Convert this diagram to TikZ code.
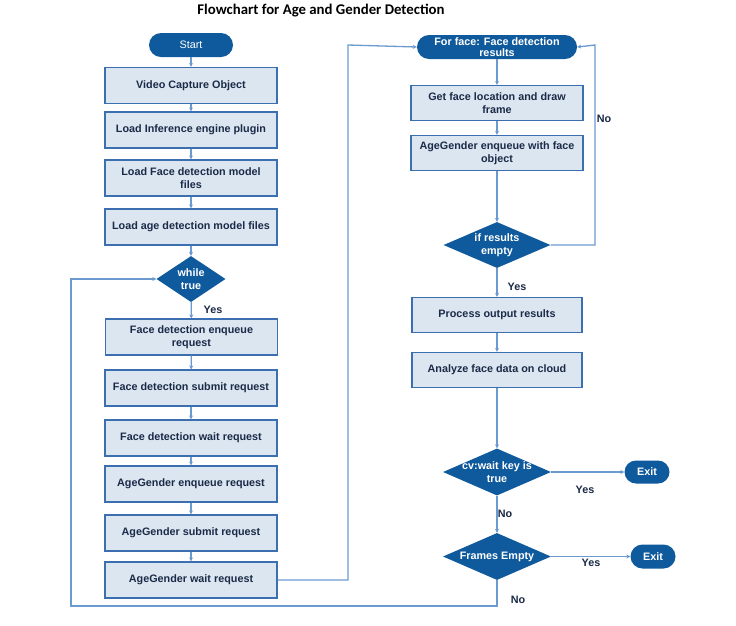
\documentclass[tikz,border=0pt]{standalone}
\usepackage{fontspec}
\setmainfont{Liberation Sans}
\newfontfamily\titlefont{Carlito}
\usetikzlibrary{shapes.geometric,arrows.meta}
\definecolor{dblue}{HTML}{0F5A9C}
\definecolor{boxfill}{HTML}{DCE6F1}
\definecolor{boxdraw}{HTML}{3B6FB0}
\definecolor{linec}{HTML}{6B9AD0}
\definecolor{txt}{HTML}{1B2A47}
\tikzset{
  every node/.style={inner sep=0pt},
  procbox/.style={rectangle, draw=boxdraw, fill=boxfill, line width=1.1pt, minimum width=172pt, minimum height=36pt, align=center, text=txt, font=\fontsize{10.8}{12.5}\selectfont\bfseries},
  pill/.style={rectangle, rounded corners=12pt, fill=dblue, minimum height=24pt, align=center, text=white, font=\fontsize{10.8}{12}\selectfont},
  dia/.style={diamond, fill=dblue, inner sep=0pt},
  dtext/.style={align=center, text=white, font=\fontsize{10.8}{12.5}\selectfont\bfseries},
  lbl/.style={text=txt, font=\fontsize{10.8}{12}\selectfont\bfseries},
  conn/.style={draw=linec, line width=1.3pt, -{Stealth[length=4pt,width=4pt]}}
}
\begin{document}
\begin{tikzpicture}[x=1pt,y=-1pt]
\useasboundingbox[fill=white] (0,0) rectangle (736,625);
\node[font=\titlefont\fontsize{14.8}{16}\selectfont\bfseries] (title) at (321,11) {Flowchart for Age and Gender Detection};
% left column
\node[pill, minimum width=84pt] (start) at (191,45) {Start};
\node[procbox] (vco) at (191,85.5) {Video Capture Object};
\node[procbox] (lip) at (191,130) {Load Inference engine plugin};
\node[procbox] (lfd) at (191,178) {Load Face detection model\\files};
\node[procbox] (lad) at (191,227) {Load age detection model files};
\node[dia, minimum width=69pt, minimum height=46pt, label={[dtext]center:{while\\true}}] (wt) at (191,279) {};
\node[procbox] (fde) at (191.5,337) {Face detection enqueue\\request};
\node[procbox] (fds) at (191,388) {Face detection submit request};
\node[procbox] (fdw) at (191,438) {Face detection wait request};
\node[procbox] (age) at (191,484) {AgeGender enqueue request};
\node[procbox] (ags) at (191,533) {AgeGender submit request};
\node[procbox] (agw) at (191,580) {AgeGender wait request};
% right column
\node[pill, minimum width=160pt, font=\fontsize{10.8}{11}\selectfont\bfseries] (ff) at (497,47) {For face: Face detection\\results};
\node[procbox, minimum height=35pt] (gfl) at (497,103) {Get face location and draw\\frame};
\node[procbox, minimum height=35pt] (agf) at (497,153) {AgeGender enqueue with face\\object};
\node[dia, minimum width=107pt, minimum height=46pt, label={[dtext]center:{if results\\empty}}] (ire) at (497,245) {};
\node[procbox, minimum width=170pt, minimum height=35pt] (por) at (497,315) {Process output results};
\node[procbox, minimum width=170pt, minimum height=35pt] (afd) at (497,370) {Analyze face data on cloud};
\node[dia, minimum width=108pt, minimum height=47pt, label={[dtext]center:{cv:wait key is\\true}}] (cvw) at (497,472) {};
\node[pill, minimum width=45pt, minimum height=23pt, rounded corners=11.5pt, font=\fontsize{10.8}{12}\selectfont\bfseries] (ex1) at (647,472) {Exit};
\node[dia, minimum width=108pt, minimum height=47pt, label={[dtext]center:{Frames Empty}}] (fe) at (497,556.5) {};
\node[pill, minimum width=45pt, font=\fontsize{10.8}{12}\selectfont\bfseries] (ex2) at (653,556.5) {Exit};
% helper coordinates
\coordinate (c1) at (348,580);
\coordinate (c2) at (348,45);
\coordinate (c3) at (595,245);
\coordinate (c4) at (595,45);
\coordinate (c5) at (497,606);
\coordinate (c6) at (71,606);
\coordinate (c7) at (71,279);
% connectors left
\draw[conn] (start) -- (vco);
\draw[conn] (vco) -- (lip);
\draw[conn] (lip) -- (lfd);
\draw[conn] (lfd) -- (lad);
\draw[conn] (lad) -- (wt);
\draw[conn] (wt) -- (fde);
\draw[conn] (fde) -- (fds);
\draw[conn] (fds) -- (fdw);
\draw[conn] (fdw) -- (age);
\draw[conn] (age) -- (ags);
\draw[conn] (ags) -- (agw);
\draw[conn] (agw.east) -- (c1) -- (c2) -- (ff.west);
% connectors right
\draw[conn] (ff) -- (gfl);
\draw[conn] (gfl) -- (agf);
\draw[conn] (agf) -- (ire);
\draw[conn] (ire) -- (por);
\draw[conn] (ire.east) -- (c3) -- (c4) -- (ff.east);
\draw[conn] (por) -- (afd);
\draw[conn] (afd) -- (cvw);
\draw[conn] (cvw.east) -- (ex1);
\draw[conn] (cvw) -- (fe);
\draw[conn] (fe.east) -- (ex2);
\draw[conn] (fe.south) -- (c5) -- (c6) -- (c7) -- (wt.west);
% labels
\node[lbl] (y1) at (213,310) {Yes};
\node[lbl] (y2) at (517,287) {Yes};
\node[lbl] (n1) at (604,119) {No};
\node[lbl] (y3) at (585,490) {Yes};
\node[lbl] (n2) at (505,514) {No};
\node[lbl] (y4) at (591,563) {Yes};
\node[lbl] (n3) at (518,600) {No};
\end{tikzpicture}
\end{document}
